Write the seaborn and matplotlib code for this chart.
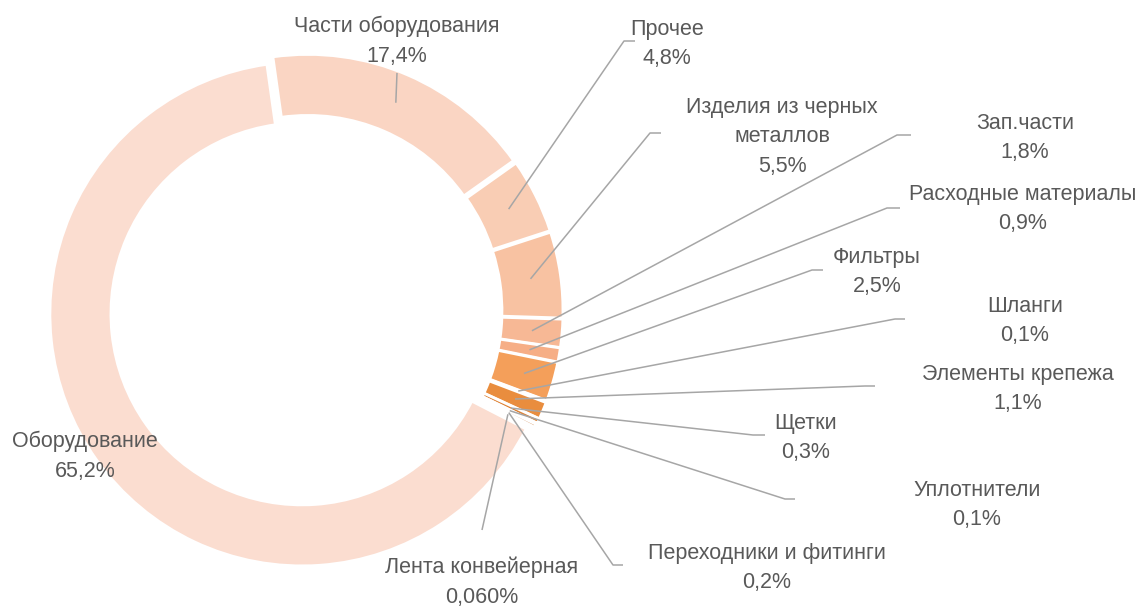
import numpy as np
import matplotlib
matplotlib.use('Agg')
import matplotlib.pyplot as plt
import seaborn as sns

# данные диаграммы (доли, %)
categories = ['Части оборудования', 'Прочее', 'Изделия из черных металлов', 'Зап.части',
              'Расходные материалы', 'Фильтры', 'Шланги', 'Элементы крепежа', 'Щетки',
              'Уплотнители', 'Переходники и фитинги', 'Лента конвейерная', 'Оборудование']
shares = [17.4, 4.8, 5.5, 1.8, 0.9, 2.5, 0.1, 1.1, 0.3, 0.1, 0.2, 0.06, 65.2]
share_labels = ['17,4%', '4,8%', '5,5%', '1,8%', '0,9%', '2,5%', '0,1%', '1,1%', '0,3%',
                '0,1%', '0,2%', '0,060%', '65,2%']
label_text = ['Части оборудования', 'Прочее', 'Изделия из черных\nметаллов', 'Зап.части',
              'Расходные материалы', 'Фильтры', 'Шланги', 'Элементы крепежа', 'Щетки',
              'Уплотнители', 'Переходники и фитинги', 'Лента конвейерная', 'Оборудование']
colors = ['#FAD5C3', '#F9CDB4', '#F8C2A2', '#F7B895', '#F6AE86', '#F49F5A', '#F09550',
          '#E98D3E', '#DE8235', '#D0772E', '#C46D28', '#B86424', '#FBDDD0']

# раскладка (пиксели)
W, H = 1141, 606
cx, cy, R, ring = 306, 311, 252, 61
start = 262  # ось y перевёрнута
label_xy = [(397, 41), (667, 44), (782, 137), (1025, 138), (1023, 209), (877, 272),
            (1025, 321), (1018, 389), (806, 438), (977, 505), (767, 568), (482, 582),
            (85, 456)]
elbows = [[(397, 73)], [(624, 41), (635, 41)], [(650, 133), (661, 133)],
          [(897, 135), (911, 135)], [(887, 208), (900, 208)], [(812, 270), (823, 270)],
          [(895, 319), (905, 319)], [(865, 386), (875, 386)], [(753, 435), (765, 435)],
          [(785, 499), (795, 499)], [(613, 565), (623, 565)], [(482, 530)], None]

sns.set_theme(style='white')
plt.rcParams['font.family'] = ['Liberation Sans', 'DejaVu Sans']

fig = plt.figure(figsize=(W / 100, H / 100), dpi=100)
ax = fig.add_axes([0, 0, 1, 1])

palette = sns.color_palette(colors)
ax.pie(shares, colors=palette, startangle=start, counterclock=True,
       radius=R, center=(cx, cy), explode=[5] * len(shares),
       wedgeprops=dict(width=ring, edgecolor='white', linewidth=2))

ax.set_xlim(0, W)
ax.set_ylim(H, 0)
ax.set_aspect('equal')
ax.axis('off')

# выноски
cum = np.cumsum(shares) - np.array(shares) / 2
for i, pts in enumerate(elbows):
    if pts is None:
        continue
    th = np.deg2rad(start + cum[i] / sum(shares) * 360)
    r0 = R * 0.9
    xs = [cx + r0 * np.cos(th)] + [p[0] for p in pts]
    ys = [cy + r0 * np.sin(th)] + [p[1] for p in pts]
    ax.plot(xs, ys, color='#A6A6A6', lw=1.1, solid_capstyle='butt')

for i, (x, y) in enumerate(label_xy):
    ax.text(x, y, label_text[i] + '\n' + share_labels[i], ha='center', va='center',
            fontsize=15.5, color='#595959', linespacing=1.55)

fig.savefig('out.png', dpi=100)
